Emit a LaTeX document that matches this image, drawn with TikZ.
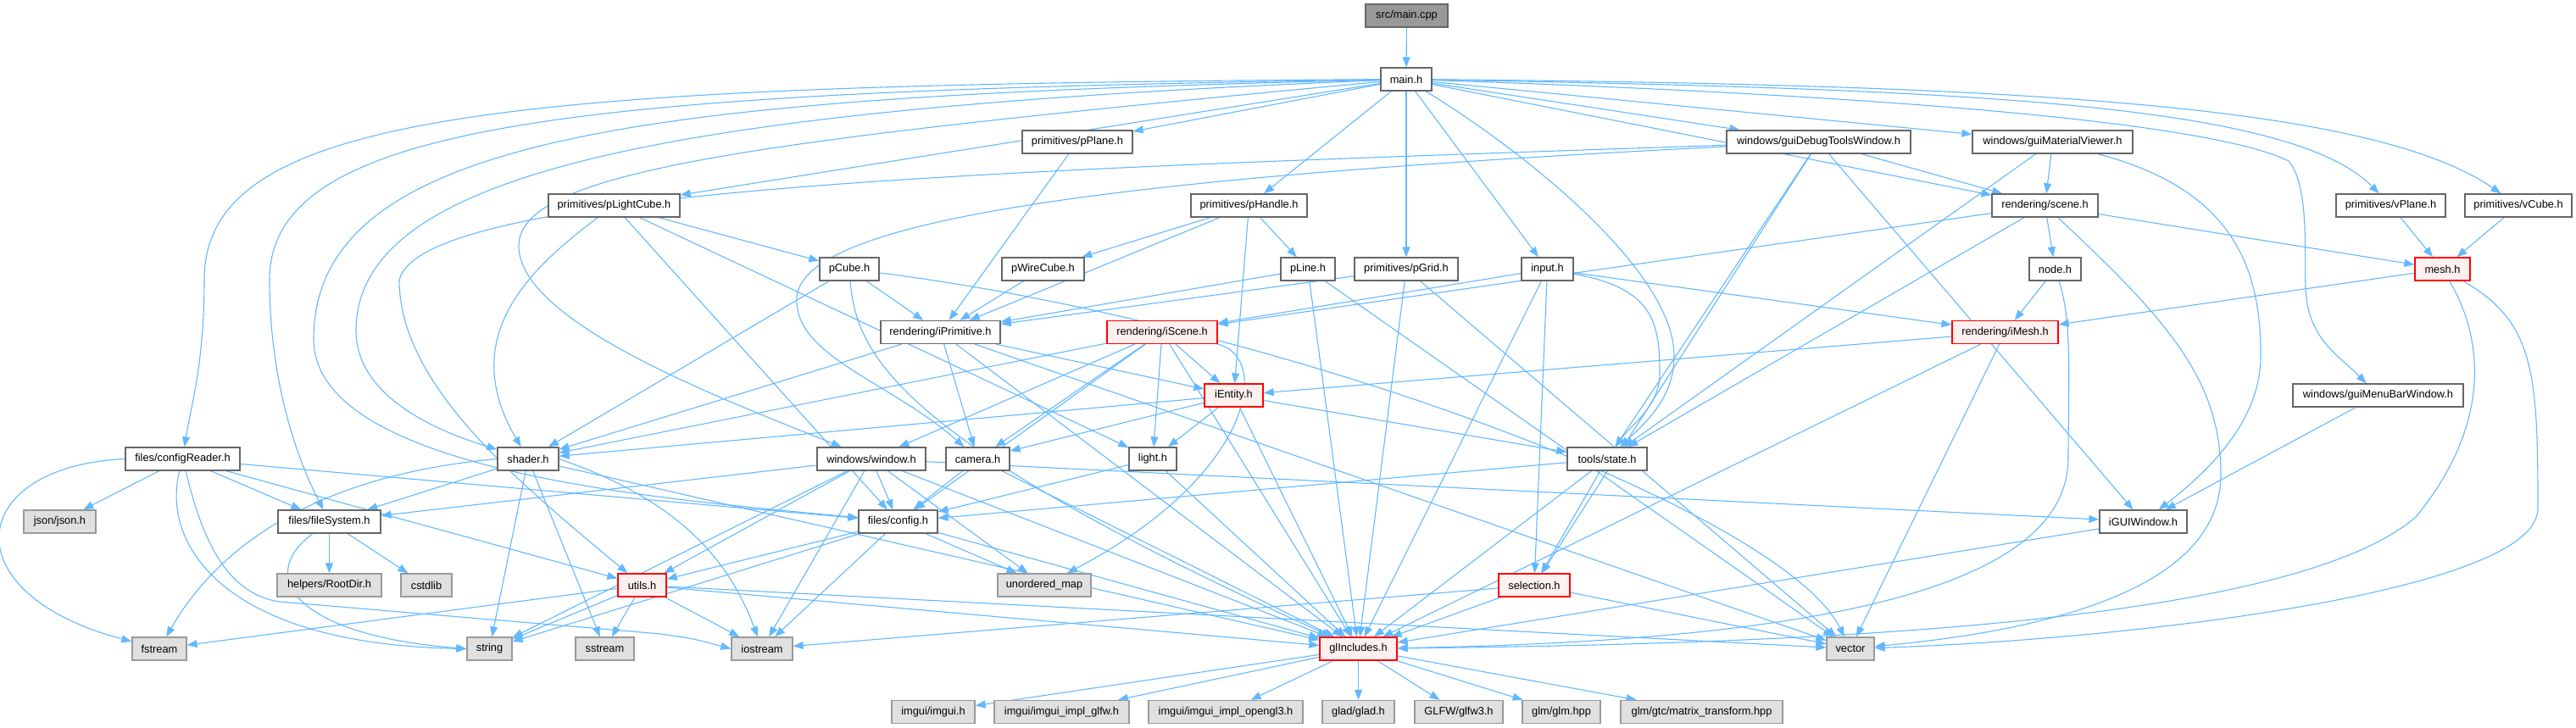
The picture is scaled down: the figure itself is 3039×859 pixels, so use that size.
\documentclass[tikz,border=0pt]{standalone}
\usepackage{fontspec}
\newfontfamily\lblfont{Liberation Sans}
\usetikzlibrary{arrows.meta}
\definecolor{edgeblue}{HTML}{63B8FF}
\definecolor{bordergray}{HTML}{666666}
\definecolor{extborder}{HTML}{999999}
\definecolor{extfill}{HTML}{E0E0E0}
\definecolor{redfill}{HTML}{FFF0F0}
\definecolor{redborder}{HTML}{FF0000}
\definecolor{topfill}{HTML}{999999}
\pgfdeclarelayer{bg}
\pgfsetlayers{bg,main}
\tikzset{
 box/.style={draw=bordergray, fill=white, line width=1.3pt, minimum height=27pt, inner sep=0pt, font={\lblfont\fontsize{12.8}{14}\selectfont}},
 extbox/.style={box, draw=extborder, fill=extfill},
 redbox/.style={box, draw=redborder, fill=redfill},
 topbox/.style={box, fill=topfill},
 lnk/.style={draw=edgeblue, line width=1.1pt, -{Triangle[length=12pt,width=9pt]}},
}
\newcommand{\edg}[2]{\draw[lnk] (#1) -- (#2);}
\begin{document}
\begin{tikzpicture}[x=1pt,y=1pt]
\useasboundingbox (0,0) rectangle (3039,-859);
% nodes
\node[topbox, minimum width=97pt] (maincpp) at (1659.5,-18.5) {src/main.cpp};
\node[box, minimum width=60pt] (mainh) at (1659,-93.5) {main.h};
\node[box, minimum width=130pt] (pPlane) at (1271,-167.5) {primitives/pPlane.h};
\node[box, minimum width=217pt] (guiDebug) at (2145.5,-167.5) {windows/guiDebugToolsWindow.h};
\node[box, minimum width=189pt] (guiMat) at (2421.5,-167.5) {windows/guiMaterialViewer.h};
\node[box, minimum width=155pt] (pLightCube) at (724.5,-242.5) {primitives/pLightCube.h};
\node[box, minimum width=137pt] (pHandle) at (1473.5,-242.5) {primitives/pHandle.h};
\node[box, minimum width=125pt] (scene) at (2412.5,-242.5) {rendering/scene.h};
\node[box, minimum width=129pt] (vPlane) at (2820.5,-242.5) {primitives/vPlane.h};
\node[box, minimum width=126pt] (vCube) at (2971,-242.5) {primitives/vCube.h};
\node[box, minimum width=70pt] (pCube) at (1002,-317.5) {pCube.h};
\node[box, minimum width=97pt] (pWireCube) at (1230.5,-317.5) {pWireCube.h};
\node[box, minimum width=64pt] (pLine) at (1543,-317.5) {pLine.h};
\node[box, minimum width=122pt] (pGrid) at (1659,-317.5) {primitives/pGrid.h};
\node[box, minimum width=61pt] (input) at (1825.5,-317.5) {input.h};
\node[box, minimum width=61pt] (node) at (2424.5,-317.5) {node.h};
\node[redbox, minimum width=65pt] (mesh) at (2881.5,-317.5) {mesh.h};
\node[box, minimum width=141pt] (iPrimitive) at (1109.5,-392) {rendering/iPrimitive.h};
\node[redbox, minimum width=130pt] (iScene) at (1371,-392) {rendering/iScene.h};
\node[redbox, minimum width=125pt] (iMesh) at (2365.5,-392) {rendering/iMesh.h};
\node[redbox, minimum width=69pt] (iEntity) at (1455.5,-466.5) {iEntity.h};
\node[box, minimum width=201pt] (guiMenuBar) at (2805.5,-466.5) {windows/guiMenuBarWindow.h};
\node[box, minimum width=135pt] (configReader) at (215.5,-541.5) {files/configReader.h};
\node[box, minimum width=72pt] (shader) at (623,-541.5) {shader.h};
\node[box, minimum width=128pt] (window) at (1028,-541.5) {windows/window.h};
\node[box, minimum width=75pt] (camera) at (1153.5,-541.5) {camera.h};
\node[box, minimum width=56pt] (light) at (1360,-541.5) {light.h};
\node[box, minimum width=94pt] (state) at (1896,-541.5) {tools/state.h};
\node[box, minimum width=121pt] (fileSystem) at (388.5,-615.5) {files/fileSystem.h};
\node[box, minimum width=93pt] (config) at (1059.5,-615.5) {files/config.h};
\node[box, minimum width=103pt] (iGUIWindow) at (2528.5,-615.5) {iGUIWindow.h};
\node[extbox, minimum width=85pt] (json) at (70.5,-615.5) {json/json.h};
\node[extbox, minimum width=123pt] (rootdir) at (388.5,-690.5) {helpers/RootDir.h};
\node[extbox, minimum width=60pt] (cstdlib) at (503,-690.5) {cstdlib};
\node[redbox, minimum width=57pt] (utils) at (757.5,-690.5) {utils.h};
\node[extbox, minimum width=110pt] (umap) at (1232,-690.5) {unordered\_map};
\node[redbox, minimum width=84pt] (selection) at (1810,-690.5) {selection.h};
\node[extbox, minimum width=64pt] (fstream) at (188,-765.5) {fstream};
\node[extbox, minimum width=53pt] (string) at (577.5,-765.5) {string};
\node[extbox, minimum width=69pt] (sstream) at (713.5,-765.5) {sstream};
\node[extbox, minimum width=72pt] (iostream) at (899,-765.5) {iostream};
\node[redbox, minimum width=91pt] (glincl) at (1602.5,-765.5) {glIncludes.h};
\node[extbox, minimum width=56pt] (vector) at (2183,-765.5) {vector};
\node[extbox, minimum width=98pt] (imgui) at (1101,-840) {imgui/imgui.h};
\node[extbox, minimum width=159pt] (glfwimpl) at (1252.5,-840) {imgui/imgui\_impl\_glfw.h};
\node[extbox, minimum width=182pt] (ogl3) at (1446,-840) {imgui/imgui\_impl\_opengl3.h};
\node[extbox, minimum width=85pt] (glad) at (1602.5,-840) {glad/glad.h};
\node[extbox, minimum width=104pt] (glfw3) at (1721,-840) {GLFW/glfw3.h};
\node[extbox, minimum width=92pt] (glm) at (1842,-840) {glm/glm.hpp};
\node[extbox, minimum width=191pt] (gtc) at (2007.5,-840) {glm/gtc/matrix\_transform.hpp};
% edges
\begin{pgfonlayer}{bg}
\edg{maincpp}{mainh}
\edg{mainh}{pPlane}
\edg{mainh}{pLightCube}
\edg{mainh}{pHandle}
\edg{mainh}{pGrid}
\edg{mainh}{input}
\edg{mainh}{guiDebug}
\edg{mainh}{guiMat}
\edg{mainh}{scene}
\draw[lnk] (mainh) .. controls (600,-100) and (241,-130) .. (241,-330) .. controls (241,-430) and (225,-480) .. (configReader);
\draw[lnk] (mainh) .. controls (700,-108) and (318,-140) .. (318,-330) .. controls (318,-450) and (350,-540) .. (fileSystem);
\draw[lnk] (mainh) .. controls (800,-114) and (370,-150) .. (370,-400) .. controls (370,-560) and (800,-590) .. (config);
\draw[lnk] (mainh) .. controls (800,-128) and (420,-200) .. (420,-390) .. controls (420,-470) and (520,-510) .. (shader);
\draw[lnk] (mainh) .. controls (900,-165) and (612,-200) .. (612,-290) .. controls (612,-380) and (850,-470) .. (window);
\draw[lnk] (mainh) .. controls (1800,-180) and (1975,-320) .. (1975,-420) .. controls (1975,-470) and (1940,-500) .. (state);
\draw[lnk] (mainh) .. controls (2300,-115) and (2620,-150) .. (2700,-190) .. controls (2725,-220) and (2718,-300) .. (2720,-340) .. controls (2722,-400) and (2760,-420) .. (guiMenuBar);
\draw[lnk] (mainh) .. controls (2300,-105) and (2700,-120) .. (vPlane);
\draw[lnk] (mainh) .. controls (2400,-100) and (2800,-125) .. (vCube);
\draw[lnk] (guiDebug) .. controls (1200,-200) and (500,-220) .. (471,-330) .. controls (471,-450) and (600,-560) .. (utils);
\draw[lnk] (guiDebug) .. controls (1300,-210) and (950,-260) .. (940,-350) .. controls (935,-420) and (1050,-450) .. (camera);
\edg{guiDebug}{scene}
\edg{guiDebug}{state}
\edg{guiDebug}{selection}
\edg{guiDebug}{iGUIWindow}
\edg{guiMat}{scene}
\edg{guiMat}{state}
\draw[lnk] (guiMat) .. controls (2620,-220) and (2668,-300) .. (2667,-420) .. controls (2667,-500) and (2600,-560) .. (iGUIWindow);
\edg{pPlane}{iPrimitive}
\edg{pLightCube}{pCube}
\draw[lnk] (pLightCube) .. controls (620,-320) and (540,-400) .. (shader);
\edg{pLightCube}{config}
\edg{pLightCube}{light}
\edg{pHandle}{pWireCube}
\edg{pHandle}{pLine}
\edg{pHandle}{iPrimitive}
\edg{pHandle}{iEntity}
\edg{pCube}{iPrimitive}
\edg{pCube}{shader}
\draw[lnk] (pCube) .. controls (1010,-420) and (1060,-520) .. (glincl);
\draw[lnk] (pCube) .. controls (1500,-380) and (2100,-600) .. (vector);
\edg{pWireCube}{iPrimitive}
\edg{pLine}{iPrimitive}
\edg{pLine}{glincl}
\edg{pLine}{vector}
\edg{pGrid}{iPrimitive}
\edg{pGrid}{glincl}
\edg{pGrid}{vector}
\edg{input}{iScene}
\edg{input}{glincl}
\edg{input}{selection}
\edg{input}{iMesh}
\draw[lnk] (input) .. controls (1950,-340) and (1958,-380) .. (1958,-440) .. controls (1958,-480) and (1925,-500) .. (state);
\edg{scene}{iScene}
\edg{scene}{node}
\edg{scene}{mesh}
\edg{scene}{state}
\draw[lnk] (scene) .. controls (2560,-380) and (2620,-450) .. (2620,-560) .. controls (2620,-700) and (2400,-745) .. (vector);
\edg{vPlane}{mesh}
\edg{vCube}{mesh}
\edg{node}{iMesh}
\draw[lnk] (node) .. controls (2445,-380) and (2440,-450) .. (2440,-540) .. controls (2440,-680) and (2200,-755) .. (glincl);
\edg{mesh}{iMesh}
\draw[lnk] (mesh) .. controls (2930,-400) and (2940,-500) .. (2850,-610) .. controls (2700,-740) and (2100,-760) .. (glincl);
\draw[lnk] (mesh) .. controls (2990,-380) and (2994,-440) .. (2994,-600) .. controls (2994,-700) and (2500,-755) .. (vector);
\edg{iPrimitive}{shader}
\edg{iPrimitive}{camera}
\edg{iPrimitive}{iEntity}
\edg{iPrimitive}{glincl}
\edg{iPrimitive}{vector}
\edg{iScene}{iEntity}
\edg{iScene}{window}
\edg{iScene}{camera}
\edg{iScene}{light}
\edg{iScene}{config}
\draw[lnk] (iScene) .. controls (1500,-420) and (1480,-560) .. (umap);
\edg{iScene}{shader}
\edg{iScene}{glincl}
\edg{iMesh}{iEntity}
\edg{iMesh}{glincl}
\edg{iMesh}{vector}
\edg{iEntity}{shader}
\edg{iEntity}{camera}
\edg{iEntity}{light}
\edg{iEntity}{state}
\edg{iEntity}{glincl}
\edg{guiMenuBar}{iGUIWindow}
\edg{configReader}{json}
\edg{configReader}{fileSystem}
\edg{configReader}{utils}
\edg{configReader}{config}
\draw[lnk] (configReader) .. controls (235,-620) and (260,-700) .. (330,-710) -- (780,-748) .. controls (820,-754) .. (iostream.west);
\draw[lnk] (configReader.west) .. controls (-40,-550) and (-60,-700) .. (fstream);
\draw[lnk] (configReader) .. controls (190,-640) and (260,-760) .. (string.west);
\edg{shader}{fileSystem}
\edg{shader}{string}
\edg{shader}{sstream}
\draw[lnk] (shader.east) .. controls (800,-590) and (860,-660) .. (iostream);
\draw[lnk] (shader.west) .. controls (380,-560) and (260,-640) .. (fstream);
\edg{shader}{glincl}
\edg{window}{fileSystem}
\edg{window}{config}
\edg{window}{utils}
\edg{window}{string}
\edg{window}{iostream}
\edg{window}{umap}
\edg{window}{glincl}
\edg{window}{iGUIWindow}
\edg{camera}{config}
\edg{camera}{glincl}
\edg{light}{config}
\edg{light}{glincl}
\edg{state}{config}
\edg{state}{selection}
\edg{state}{glincl}
\edg{fileSystem}{rootdir}
\edg{fileSystem}{cstdlib}
\draw[lnk] (fileSystem) .. controls (300,-680) and (350,-750) .. (string.west);
\edg{config}{utils}
\edg{config}{string}
\edg{config}{iostream}
\edg{config}{umap}
\edg{config}{glincl}
\edg{utils}{fstream}
\edg{utils}{string}
\edg{utils}{sstream}
\edg{utils}{iostream}
\edg{utils}{glincl}
\edg{utils}{vector}
\edg{selection}{iostream}
\edg{selection}{glincl}
\edg{selection}{vector}
\edg{iGUIWindow}{glincl}
\edg{glincl}{imgui}
\edg{glincl}{glfwimpl}
\edg{glincl}{ogl3}
\edg{glincl}{glad}
\edg{glincl}{glfw3}
\edg{glincl}{glm}
\edg{glincl}{gtc}
\end{pgfonlayer}
\end{tikzpicture}
\end{document}
